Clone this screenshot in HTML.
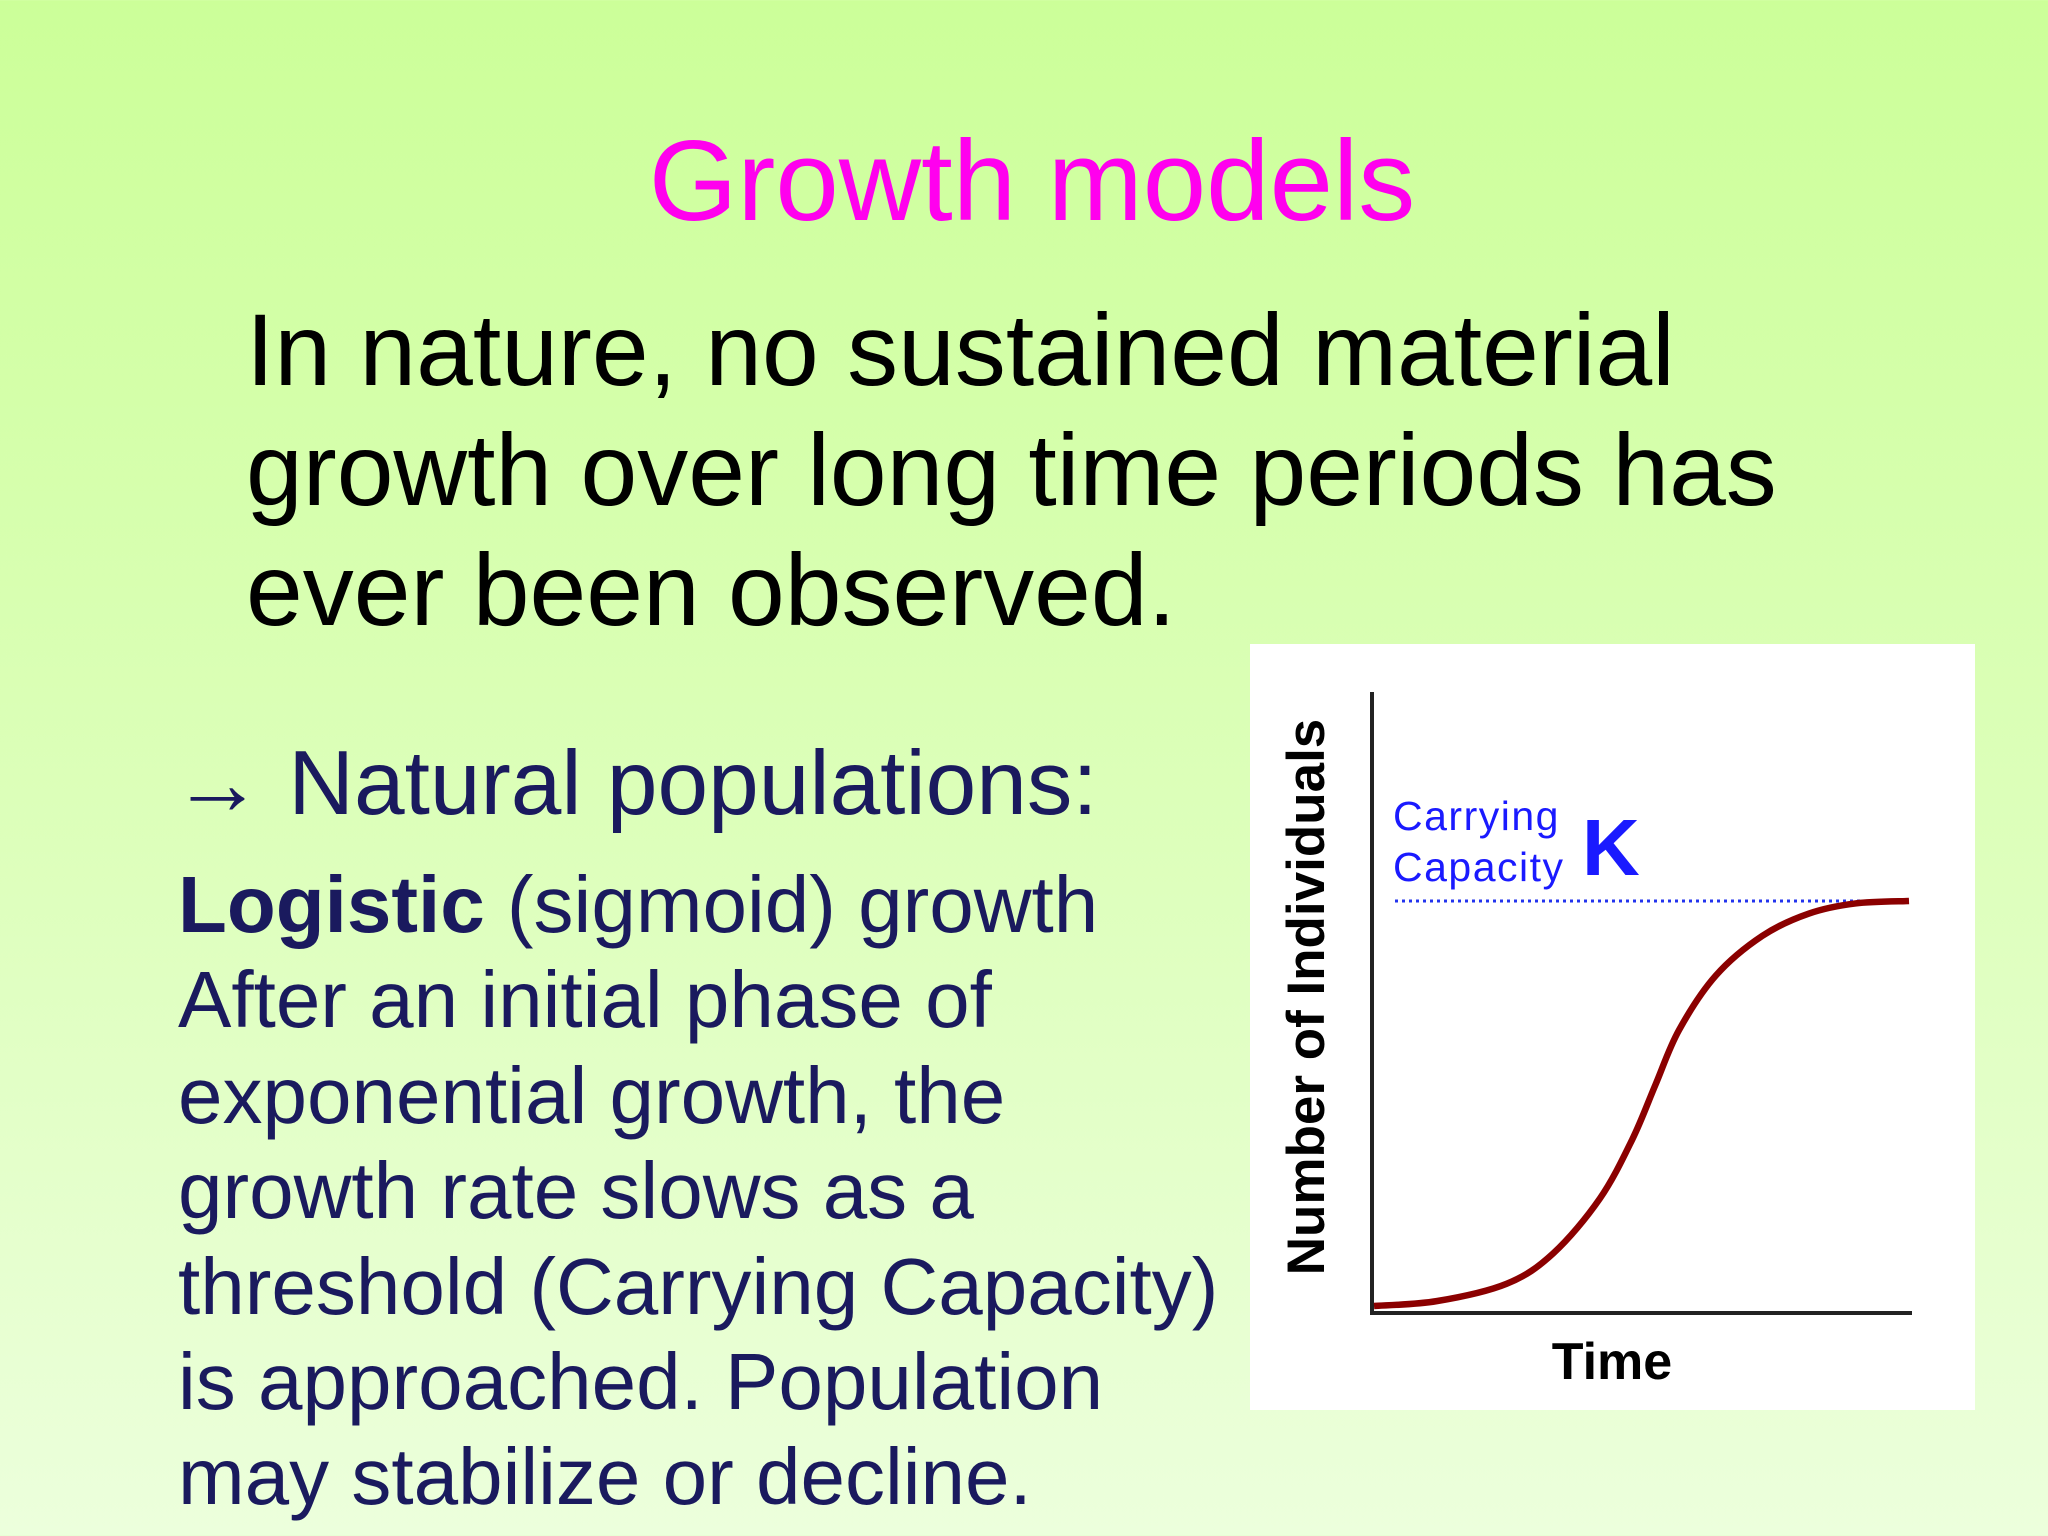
<!DOCTYPE html>
<html><head><meta charset="utf-8">
<style>
html,body{margin:0;padding:0;width:2048px;height:1536px;overflow:hidden}
body{background:linear-gradient(#ccff99 0%,#ddffbb 55%,#ecffdc 100%);font-family:"Liberation Sans",sans-serif;position:relative}
.t{position:absolute;white-space:nowrap}
</style></head>
<body>
<div class="t" style="left:0;width:2064px;text-align:center;top:117px;font-size:114px;color:#ff00ee;line-height:130px">Growth models</div>
<div class="t" style="left:246px;top:290px;font-size:102px;line-height:120px;color:#000">In nature, no sustained material<br>growth over long time periods has<br>ever been observed.</div>
<div class="t" style="left:172px;top:729px;font-size:91px;line-height:110px;color:#1a1a5e">→ Natural populations:</div>
<div class="t" style="left:178px;top:857px;font-size:80px;line-height:95.4px;color:#1a1a5e"><b>Logistic</b> (sigmoid) growth<br>After an initial phase of<br>exponential growth, the<br>growth rate slows as a<br>threshold (Carrying Capacity)<br>is approached. Population<br>may stabilize or decline.</div>
<svg id="chart" width="2048" height="1536" style="position:absolute;left:0;top:0">
<rect x="1250" y="644" width="725" height="766" fill="#fff"/>
<line x1="1372" y1="692" x2="1372" y2="1314" stroke="#222" stroke-width="4"/>
<line x1="1370" y1="1313" x2="1912" y2="1313" stroke="#222" stroke-width="4"/>
<line id="kline" x1="1395" x2="1909" stroke="#2233ee" stroke-width="3" stroke-dasharray="3,4"/>
<path id="curve" fill="none" stroke="#8b0000" stroke-width="6.5"/>
<text x="1393" y="830" font-size="41" letter-spacing="1.5" fill="#1a1aff" font-family="Liberation Sans,sans-serif">Carrying</text>
<text x="1393" y="881" font-size="41" letter-spacing="1.5" fill="#1a1aff" font-family="Liberation Sans,sans-serif">Capacity</text>
<text x="1582" y="875" font-size="80" font-weight="bold" fill="#1a1aff" font-family="Liberation Sans,sans-serif">K</text>
<text transform="translate(1324,997) rotate(-90)" text-anchor="middle" font-size="53" font-weight="bold" fill="#000" font-family="Liberation Sans,sans-serif">Number of Individuals</text>
<text x="1612" y="1379" text-anchor="middle" font-size="52" font-weight="bold" fill="#000" font-family="Liberation Sans,sans-serif">Time</text>
</svg>
<script>
const timePoints = [0, 11.7, 24.8, 33.5, 42.2, 48.3, 52.6, 57, 63.9, 72.6, 81.3, 90, 100];
const populationValues = [0, 0.012, 0.055, 0.13, 0.265, 0.412, 0.546, 0.681, 0.816, 0.914, 0.969, 0.994, 1.0];
const carryingCapacity = [1.0];
function xScale(t){return 1374 + t/100*(1909-1374);}
function yScale(v){return 1306 - v*(1306-901);}
const pts = timePoints.map((t,i)=>[xScale(t), yScale(populationValues[i])]);
let d = 'M'+pts[0][0]+','+pts[0][1];
for(let i=0;i<pts.length-1;i++){
  const p0=pts[Math.max(0,i-1)],p1=pts[i],p2=pts[i+1],p3=pts[Math.min(pts.length-1,i+2)];
  const c1=[p1[0]+(p2[0]-p0[0])/6,p1[1]+(p2[1]-p0[1])/6];
  const c2=[p2[0]-(p3[0]-p1[0])/6,p2[1]-(p3[1]-p1[1])/6];
  d+=' C'+c1[0]+','+c1[1]+' '+c2[0]+','+c2[1]+' '+p2[0]+','+p2[1];
}
document.getElementById('curve').setAttribute('d', d);
const k = document.getElementById('kline');
k.setAttribute('y1', yScale(carryingCapacity[0]));
k.setAttribute('y2', yScale(carryingCapacity[0]));
</script>
</body></html>
